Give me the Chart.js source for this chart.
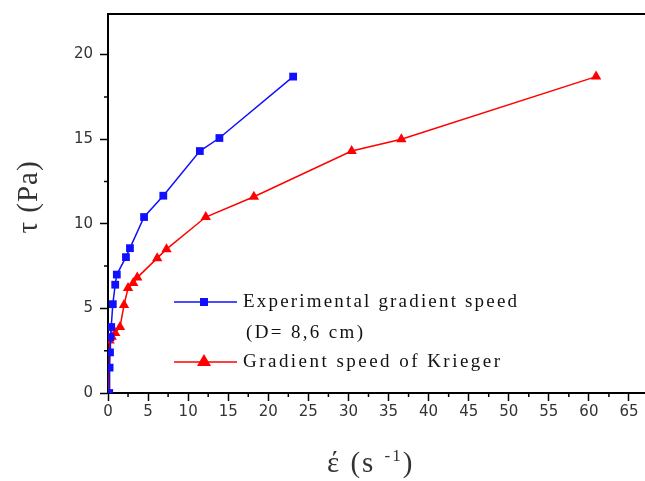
<!DOCTYPE html>
<html>
<head>
<meta charset="utf-8">
<script src="https://cdn.jsdelivr.net/npm/chart.js@4/dist/chart.umd.min.js"></script>
<style>
  body { margin: 0; background: #fff; }
  #wrap { width: 645px; height: 481px; }
</style>
</head>
<body>
<div id="wrap"><canvas id="shearChart" width="645" height="481"></canvas></div>
<script>
// experimental gradient speed (D = 8,6 cm)
const expRate = [0.15, 0.2, 0.25, 0.3, 0.4, 0.6, 0.9, 1.1, 2.24, 2.74, 4.5, 6.9, 11.46, 13.9, 23.1];
const expStress = [0, 1.5, 2.4, 3.3, 3.9, 5.25, 6.4, 7.0, 8.03, 8.56, 10.4, 11.66, 14.3, 15.07, 18.7];

// gradient speed of Krieger
const kriegerRate = [0.1, 0.2, 0.46, 0.9, 1.5, 2.0, 2.5, 3.15, 3.65, 6.14, 7.3, 12.2, 18.2, 30.4, 36.6, 60.9];
const kriegerStress = [0, 3.1, 3.33, 3.55, 3.9, 5.2, 6.2, 6.5, 6.82, 7.97, 8.5, 10.4, 11.6, 14.3, 15.0, 18.7];

const xTicks = [0, 5, 10, 15, 20, 25, 30, 35, 40, 45, 50, 55, 60, 65];
const yTicks = [0, 5, 10, 15, 20];

const legendLines = ['Experimental gradient speed', '(D= 8,6 cm)', 'Gradient speed of Krieger'];

const BLUE = '#1010ff';
const RED = '#ff0000';

const toPoints = (xs, ys) => xs.map((x, i) => ({ x: x, y: ys[i] }));

// stretch a string to a given width, the original uses a wide bitmap font
function fitText(ctx, text, x, y, width) {
  ctx.letterSpacing = '0px';
  const w = ctx.measureText(text).width;
  ctx.letterSpacing = ((width - w) / Math.max(1, text.length - 1)) + 'px';
  ctx.fillText(text, x, y);
  ctx.letterSpacing = '0px';
}

const decorations = {
  id: 'decorations',
  afterDraw(chart) {
    const ctx = chart.ctx;
    const area = chart.chartArea;
    const xs = chart.scales.x;
    const ys = chart.scales.y;
    ctx.save();

    // top frame line
    ctx.strokeStyle = '#000';
    ctx.lineWidth = 2;
    ctx.beginPath();
    ctx.moveTo(area.left - 1, area.top);
    ctx.lineTo(chart.width, area.top);
    ctx.stroke();

    // minor ticks
    ctx.lineWidth = 1.5;
    ctx.beginPath();
    xTicks.forEach((v) => {
      const px = xs.getPixelForValue(v + 2.5);
      if (px < chart.width) {
        ctx.moveTo(px, area.bottom);
        ctx.lineTo(px, area.bottom + 4);
      }
    });
    yTicks.forEach((v) => {
      const py = ys.getPixelForValue(v + 2.5);
      if (py > area.top) {
        ctx.moveTo(area.left, py);
        ctx.lineTo(area.left - 4, py);
      }
    });
    ctx.stroke();

    // legend
    const ds = chart.data.datasets;
    ctx.lineWidth = 1.5;
    [[0, 302], [1, 362]].forEach(([i, y]) => {
      ctx.strokeStyle = ds[i].borderColor;
      ctx.beginPath();
      ctx.moveTo(174, y);
      ctx.lineTo(237, y);
      ctx.stroke();
    });
    ctx.fillStyle = BLUE;
    ctx.fillRect(200, 298, 8, 8);
    ctx.fillStyle = RED;
    ctx.beginPath();
    ctx.moveTo(204, 354);
    ctx.lineTo(211, 366);
    ctx.lineTo(197, 366);
    ctx.closePath();
    ctx.fill();

    ctx.fillStyle = '#111';
    ctx.font = '19px "Liberation Serif"';
    ctx.textBaseline = 'middle';
    ctx.textAlign = 'left';
    fitText(ctx, legendLines[0], 243, 302, 274);
    fitText(ctx, legendLines[1], 246, 333, 117);
    fitText(ctx, legendLines[2], 243, 362, 257);

    // axis titles
    ctx.fillStyle = '#333';
    ctx.textAlign = 'left';
    ctx.textBaseline = 'alphabetic';
    ctx.letterSpacing = '2px';
    ctx.font = '29px "Liberation Serif"';
    const mainPart = '\u03AD (s ';
    const x0 = 327;
    ctx.fillText(mainPart, x0, 472);
    let cx = x0 + ctx.measureText(mainPart).width;
    ctx.font = '17px "Liberation Serif"';
    ctx.fillText('-1', cx, 461);
    cx += ctx.measureText('-1').width;
    ctx.font = '29px "Liberation Serif"';
    ctx.fillText(')', cx, 472);

    ctx.translate(29, 197);
    ctx.rotate(-Math.PI / 2);
    ctx.textAlign = 'center';
    ctx.textBaseline = 'middle';
    ctx.letterSpacing = '1px';
    ctx.fillText('\u03C4 (Pa)', 0, 0);
    ctx.restore();
  }
};

const ctx = document.getElementById('shearChart').getContext('2d');

new Chart(ctx, {
  type: 'line',
  data: {
    datasets: [
      {
        label: legendLines[0] + ' ' + legendLines[1],
        data: toPoints(expRate, expStress),
        borderColor: BLUE,
        backgroundColor: BLUE,
        borderWidth: 1.5,
        pointStyle: 'rect',
        pointRadius: 5.5,
        pointBorderWidth: 0,
        tension: 0
      },
      {
        label: legendLines[2],
        data: toPoints(kriegerRate, kriegerStress),
        borderColor: RED,
        backgroundColor: RED,
        borderWidth: 1.5,
        pointStyle: 'triangle',
        pointRadius: 6,
        pointBorderWidth: 0,
        tension: 0
      }
    ]
  },
  options: {
    responsive: false,
    animation: false,
    layout: {
      autoPadding: false,
      padding: { left: 0, right: 0, top: 14, bottom: 0 }
    },
    scales: {
      x: {
        type: 'linear',
        min: 0,
        max: 67,
        afterBuildTicks: (scale) => {
          scale.ticks = xTicks.map((v) => ({ value: v }));
        },
        afterFit: (scale) => {
          scale.height = 88;
          scale.paddingRight = 0;
          scale.paddingLeft = 0;
        },
        grid: {
          drawOnChartArea: false,
          tickLength: 8,
          tickWidth: 1.5,
          tickColor: '#000'
        },
        border: { color: '#000', width: 2 },
        ticks: {
          padding: 2,
          color: '#333',
          maxRotation: 0,
          font: { family: 'DejaVu Sans', size: 15 }
        }
      },
      y: {
        type: 'linear',
        min: 0,
        max: 22.4,
        afterBuildTicks: (scale) => {
          scale.ticks = yTicks.map((v) => ({ value: v }));
        },
        afterFit: (scale) => {
          scale.width = 108;
          scale.paddingTop = 0;
          scale.paddingBottom = 0;
        },
        grid: {
          drawOnChartArea: false,
          tickLength: 8,
          tickWidth: 1.5,
          tickColor: '#000'
        },
        border: { color: '#000', width: 2 },
        ticks: {
          padding: 7,
          color: '#333',
          font: { family: 'DejaVu Sans', size: 15 }
        }
      }
    },
    plugins: {
      legend: { display: false },
      title: { display: false },
      tooltip: { enabled: false }
    }
  },
  plugins: [decorations]
});
</script>
</body>
</html>
